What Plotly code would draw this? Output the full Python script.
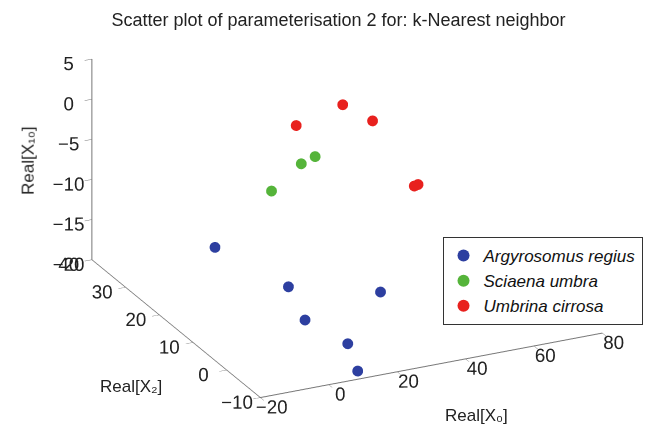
import plotly.graph_objects as go

# Feature values per species: Real[X0], Real[X2], Real[X10]
argyrosomus_x0 = [6.1, 12.8, 34.8, 7.8, 13.4, 10.4]
argyrosomus_x2 = [30.0, 15.0, 10.0, 5.0, -2.0, -8.0]
argyrosomus_x10 = [-17.1, -17.4, -18.1, -17.7, -18.7, -19.8]

sciaena_x0 = [20.6, 13.6, 4.9]
sciaena_x2 = [15.0, 12.0, 12.0]
sciaena_x10 = [-1.8, -1.1, -3.8]

umbrina_x0 = [33.6, 20.0, 37.4, 49.6, 50.7]
umbrina_x2 = [20.0, 20.0, 15.0, 15.0, 15.0]
umbrina_x10 = [1.9, 0.4, 1.3, -7.8, -7.7]

x0_ticks = [-20, 0, 20, 40, 60, 80]
x2_ticks = [-10, 0, 10, 20, 30, 40]
x10_ticks = [-20, -15, -10, -5, 0, 5]

species = [
    ("<i>Argyrosomus regius</i>", argyrosomus_x0, argyrosomus_x2, argyrosomus_x10, "#2d3fa0"),
    ("<i>Sciaena umbra</i>", sciaena_x0, sciaena_x2, sciaena_x10, "#55b43a"),
    ("<i>Umbrina cirrosa</i>", umbrina_x0, umbrina_x2, umbrina_x10, "#e8211e"),
]

fig = go.Figure()
for name, xs, ys, zs, col in species:
    fig.add_trace(go.Scatter3d(
        x=xs, y=ys, z=zs, mode="markers", name=name,
        marker=dict(size=6.3, color=col, line=dict(width=0)),
    ))

axis_common = dict(
    showbackground=False, showgrid=False, zeroline=False,
    showline=True, linecolor="#777777", linewidth=2,
    ticks="outside", tickcolor="#777777", ticklen=8, tickangle=0,
    tickfont=dict(family="Liberation Sans, Arial", size=15, color="#222222"),
    title=dict(text=""), showspikes=False,
)

box_scale = 1.777

# viewing direction (towards the viewer) and look-at offset
view_dir = (-0.398, -0.829, 0.393)
look_at = (-0.1158, 0.0201, -0.075)
eye = {k: look_at[i] + 2.0 * view_dir[i] for i, k in enumerate("xyz")}

fig.update_layout(
    width=646, height=427,
    margin=dict(l=0, r=0, t=0, b=0),
    paper_bgcolor="white",
    font=dict(family="Liberation Sans, Arial", color="#222222"),
    title=dict(text="Scatter plot of parameterisation 2 for: k-Nearest neighbor",
               x=0.524, xanchor="center", y=0.955, yanchor="middle",
               font=dict(size=18, color="#222222")),
    scene=dict(
        domain=dict(x=[0.0, 1.0], y=[0.0, 1.0]),
        xaxis=dict(range=[-20, 80], tickvals=x0_ticks, **axis_common),
        yaxis=dict(range=[-10, 40], tickvals=x2_ticks, **axis_common),
        zaxis=dict(range=[-20, 5], tickvals=x10_ticks, **axis_common),
        aspectmode="manual",
        aspectratio=dict(x=1.0 * box_scale, y=1.026 * box_scale, z=0.575 * box_scale),
        camera=dict(
            eye=eye,
            up=dict(x=0, y=0, z=1),
            center=dict(x=look_at[0], y=look_at[1], z=look_at[2]),
            projection=dict(type="orthographic"),
        ),
    ),
    legend=dict(
        x=0.685, y=0.445, xanchor="left", yanchor="top",
        bordercolor="#333333", borderwidth=1, bgcolor="white",
        font=dict(size=17, color="#111111"),
        itemsizing="constant", tracegroupgap=0,
    ),
    annotations=[
        dict(text="Real[X₁₀]", xref="paper", yref="paper", x=0.043, y=0.625,
             xanchor="center", yanchor="middle",
             showarrow=False, textangle=-90, font=dict(size=17)),
        dict(text="Real[X₂]", xref="paper", yref="paper", x=0.203, y=0.094,
             xanchor="center", yanchor="middle",
             showarrow=False, font=dict(size=17)),
        dict(text="Real[X₀]", xref="paper", yref="paper", x=0.738, y=0.028,
             xanchor="center", yanchor="middle",
             showarrow=False, font=dict(size=17)),
    ],
)

fig.write_html("out.html")
